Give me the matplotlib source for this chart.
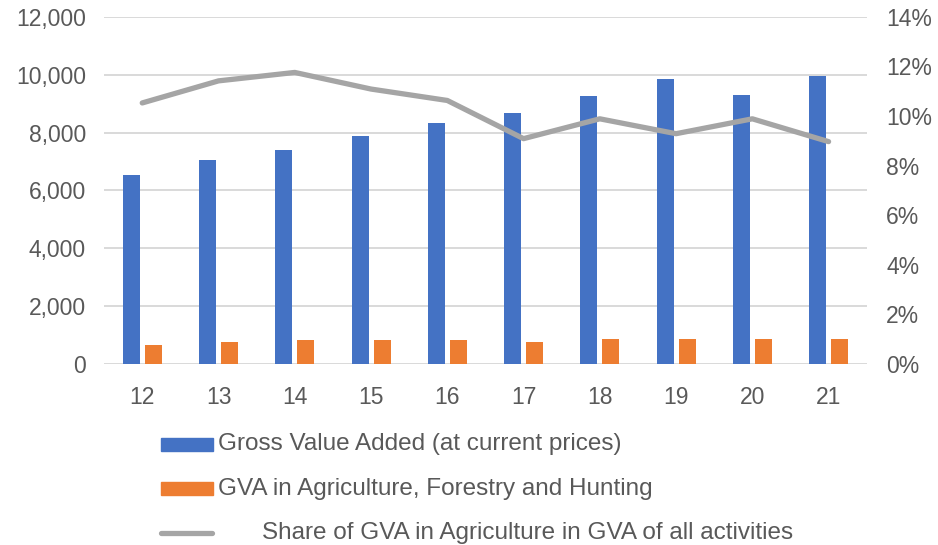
import matplotlib.pyplot as plt
import numpy as np
from matplotlib.patches import Rectangle
from matplotlib.lines import Line2D
from matplotlib.ticker import FuncFormatter

plt.rcParams['font.family'] = ['Liberation Sans', 'DejaVu Sans']

# данные
years = ["12", "13", "14", "15", "16", "17", "18", "19", "20", "21"]
gva_total = [6520, 7060, 7400, 7890, 8330, 8670, 9265, 9860, 9300, 9945]
gva_agri = [655, 760, 830, 840, 840, 760, 875, 875, 875, 850]
share_agri = [10.53, 11.42, 11.76, 11.09, 10.63, 9.09, 9.89, 9.29, 9.89, 8.97]

blue = "#4472C4"
orange = "#ED7D31"
grey = "#A5A5A5"
txt = "#595959"

fig = plt.figure(figsize=(9.38, 5.45), dpi=100)
ax = fig.add_axes([0.111, 0.332, 0.813, 0.637])
ax2 = ax.twinx()

x = np.arange(len(years))
w = 0.223
ax.bar(x - 0.144, gva_total, w, color=blue, zorder=2)
ax.bar(x + 0.144, gva_agri, w, color=orange, zorder=2)
ax2.plot(x, np.array(share_agri) / 100, color=grey, linewidth=3.8, solid_capstyle="round")

ax.set_xlim(-0.5, len(years) - 0.5)
ax.set_ylim(0, 12000)
ax.set_yticks(np.arange(0, 12001, 2000))
ax.yaxis.set_major_formatter(FuncFormatter(lambda v, p: f"{int(v):,}"))
ax2.set_ylim(0, 0.14)
ax2.set_yticks(np.arange(0, 0.141, 0.02))
ax2.yaxis.set_major_formatter(FuncFormatter(lambda v, p: f"{v * 100:.0f}%"))

ax.set_xticks(x)
ax.set_xticklabels(years)
ax.grid(axis="y", color="#D9D9D9", linewidth=1.4, zorder=0)
ax.set_axisbelow(True)

for a in (ax, ax2):
    for s in a.spines.values():
        s.set_visible(False)
    a.tick_params(length=0, labelsize=16.5, labelcolor=txt)
ax.tick_params(axis="y", pad=13)
ax2.tick_params(axis="y", pad=14)
ax.tick_params(axis="x", pad=16)

# легенда вручную
rows = [0.185, 0.103, 0.022]
fig.patches.append(Rectangle((0.172, rows[0] - 0.012), 0.055, 0.024, color=blue, transform=fig.transFigure))
fig.patches.append(Rectangle((0.172, rows[1] - 0.012), 0.055, 0.024, color=orange, transform=fig.transFigure))
fig.lines.append(Line2D([0.172, 0.226], [rows[2], rows[2]], color=grey, linewidth=3.8,
                        solid_capstyle="round", transform=fig.transFigure))
fig.text(0.232, rows[0], "Gross Value Added (at current prices)", fontsize=17.5, color=txt, va="center")
fig.text(0.232, rows[1], "GVA in Agriculture, Forestry and Hunting", fontsize=17.5, color=txt, va="center")
fig.text(0.279, rows[2], "Share of GVA in Agriculture in GVA of all activities", fontsize=17.5, color=txt, va="center")

plt.savefig("out.png")
